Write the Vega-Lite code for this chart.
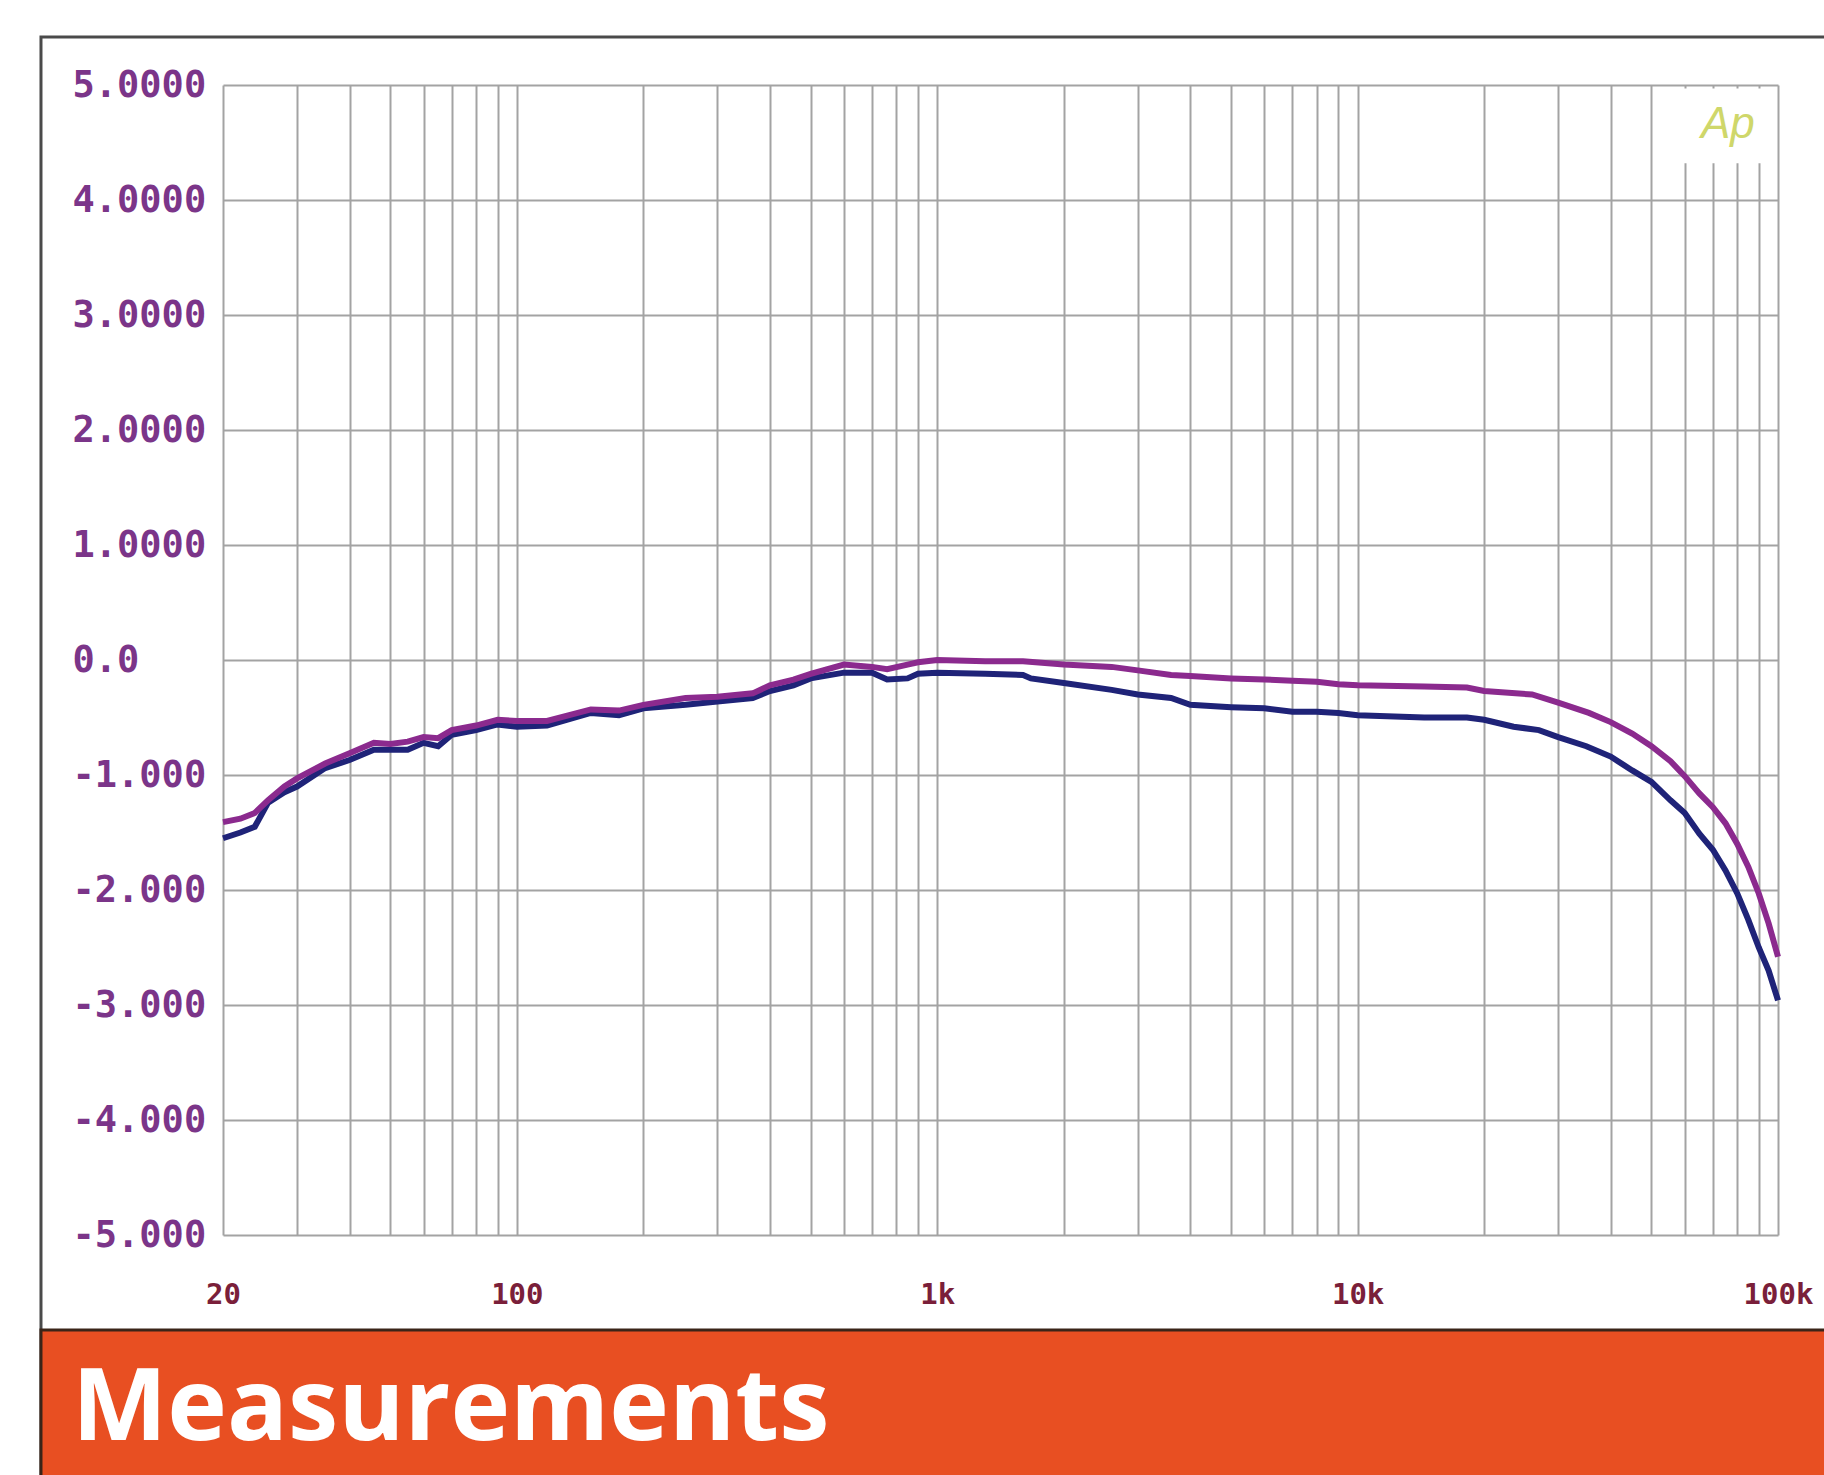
{
  "$schema": "https://vega.github.io/schema/vega-lite/v6.json",
  "width": 1555,
  "height": 1150,
  "autosize": {"type": "none"},
  "padding": {"left": 223, "top": 85, "right": 46, "bottom": 240},
  "background": "white",
  "config": {"view": {"stroke": null}},
  "datasets": {
    "purple": [
      {"f": 20, "v": -1.41}, {"f": 22, "v": -1.38}, {"f": 23.8, "v": -1.33}, {"f": 25.6, "v": -1.22},
      {"f": 28, "v": -1.1}, {"f": 30, "v": -1.03}, {"f": 35, "v": -0.9}, {"f": 40, "v": -0.81},
      {"f": 45.7, "v": -0.72}, {"f": 50, "v": -0.73}, {"f": 55, "v": -0.71}, {"f": 60, "v": -0.67},
      {"f": 65, "v": -0.68}, {"f": 70, "v": -0.61}, {"f": 80, "v": -0.57}, {"f": 90, "v": -0.52},
      {"f": 100, "v": -0.53}, {"f": 118, "v": -0.53}, {"f": 150, "v": -0.43}, {"f": 175, "v": -0.44},
      {"f": 200, "v": -0.39}, {"f": 252, "v": -0.33}, {"f": 300, "v": -0.32}, {"f": 364, "v": -0.29},
      {"f": 400, "v": -0.22}, {"f": 455, "v": -0.17}, {"f": 500, "v": -0.12}, {"f": 600, "v": -0.04},
      {"f": 700, "v": -0.06}, {"f": 760, "v": -0.08}, {"f": 850, "v": -0.04}, {"f": 900, "v": -0.02},
      {"f": 1000, "v": 0.0}, {"f": 1300, "v": -0.01}, {"f": 1600, "v": -0.01}, {"f": 2000, "v": -0.04},
      {"f": 2600, "v": -0.06}, {"f": 3000, "v": -0.09}, {"f": 3600, "v": -0.13}, {"f": 4000, "v": -0.14},
      {"f": 5000, "v": -0.16}, {"f": 6000, "v": -0.17}, {"f": 7000, "v": -0.18}, {"f": 8000, "v": -0.19},
      {"f": 9000, "v": -0.21}, {"f": 10000, "v": -0.22}, {"f": 14400, "v": -0.23}, {"f": 18200, "v": -0.24},
      {"f": 20000, "v": -0.27}, {"f": 26000, "v": -0.3}, {"f": 30000, "v": -0.37}, {"f": 35500, "v": -0.46},
      {"f": 40000, "v": -0.54}, {"f": 45000, "v": -0.64}, {"f": 50000, "v": -0.75}, {"f": 55500, "v": -0.88},
      {"f": 60000, "v": -1.01}, {"f": 65000, "v": -1.16}, {"f": 70000, "v": -1.28}, {"f": 75000, "v": -1.42},
      {"f": 80000, "v": -1.6}, {"f": 85000, "v": -1.8}, {"f": 90000, "v": -2.03}, {"f": 95000, "v": -2.29},
      {"f": 100000, "v": -2.58}
    ],
    "blue": [
      {"f": 20, "v": -1.55}, {"f": 22, "v": -1.5}, {"f": 23.8, "v": -1.45}, {"f": 25.6, "v": -1.24},
      {"f": 28, "v": -1.15}, {"f": 30, "v": -1.1}, {"f": 35, "v": -0.94}, {"f": 40, "v": -0.87},
      {"f": 45.7, "v": -0.78}, {"f": 50, "v": -0.78}, {"f": 55, "v": -0.78}, {"f": 60, "v": -0.72},
      {"f": 65, "v": -0.75}, {"f": 70, "v": -0.65}, {"f": 80, "v": -0.61}, {"f": 90, "v": -0.56},
      {"f": 100, "v": -0.58}, {"f": 118, "v": -0.57}, {"f": 150, "v": -0.46}, {"f": 175, "v": -0.48},
      {"f": 200, "v": -0.42}, {"f": 252, "v": -0.39}, {"f": 300, "v": -0.36}, {"f": 364, "v": -0.33},
      {"f": 400, "v": -0.27}, {"f": 455, "v": -0.22}, {"f": 500, "v": -0.16}, {"f": 600, "v": -0.11},
      {"f": 700, "v": -0.11}, {"f": 760, "v": -0.17}, {"f": 850, "v": -0.16}, {"f": 900, "v": -0.12},
      {"f": 1000, "v": -0.11}, {"f": 1300, "v": -0.12}, {"f": 1600, "v": -0.13}, {"f": 1670, "v": -0.16},
      {"f": 2000, "v": -0.2}, {"f": 2600, "v": -0.26}, {"f": 3000, "v": -0.3}, {"f": 3600, "v": -0.33},
      {"f": 4000, "v": -0.39}, {"f": 5000, "v": -0.41}, {"f": 6000, "v": -0.42}, {"f": 7000, "v": -0.45},
      {"f": 8000, "v": -0.45}, {"f": 9000, "v": -0.46}, {"f": 10000, "v": -0.48}, {"f": 14400, "v": -0.5},
      {"f": 18200, "v": -0.5}, {"f": 20000, "v": -0.52}, {"f": 23500, "v": -0.58}, {"f": 27000, "v": -0.61},
      {"f": 30000, "v": -0.67}, {"f": 35000, "v": -0.75}, {"f": 40000, "v": -0.84}, {"f": 45000, "v": -0.96},
      {"f": 50000, "v": -1.06}, {"f": 55500, "v": -1.22}, {"f": 60000, "v": -1.33}, {"f": 65000, "v": -1.51},
      {"f": 70000, "v": -1.65}, {"f": 75000, "v": -1.83}, {"f": 80000, "v": -2.03}, {"f": 85000, "v": -2.26},
      {"f": 90000, "v": -2.5}, {"f": 95000, "v": -2.7}, {"f": 100000, "v": -2.96}
    ]
  },
  "layer": [
    {
      "data": {"name": "blue"},
      "mark": {"type": "line", "stroke": "#1f2378", "strokeWidth": 6, "clip": false},
      "encoding": {
        "x": {
          "field": "f", "type": "quantitative",
          "scale": {"type": "log", "domain": [20, 100000], "nice": false},
          "axis": {
            "title": null,
            "values": [20, 30, 40, 50, 60, 70, 80, 90, 100, 200, 300, 400, 500, 600, 700, 800, 900, 1000, 2000, 3000, 4000, 5000, 6000, 7000, 8000, 9000, 10000, 20000, 30000, 40000, 50000, 60000, 70000, 80000, 90000, 100000],
            "labelExpr": "datum.value == 20 ? '20' : datum.value == 100 ? '100' : datum.value == 1000 ? '1k' : datum.value == 10000 ? '10k' : datum.value == 100000 ? '100k' : ''",
            "grid": true, "gridColor": "#a3a3a3", "gridWidth": 2, "gridOpacity": 1,
            "domain": false, "ticks": false, "tickSize": 0,
            "labelPadding": 59, "labelBaseline": "middle", "labelAlign": "center",
            "labelFlush": false, "labelOverlap": false, "labelBound": false,
            "labelFont": "DejaVu Sans Mono", "labelFontWeight": "bold", "labelFontSize": 29, "labelColor": "#7a1f3a"
          }
        },
        "y": {
          "field": "v", "type": "quantitative",
          "scale": {"domain": [-5, 5], "nice": false, "zero": false},
          "axis": {
            "title": null,
            "values": [-5, -4, -3, -2, -1, 0, 1, 2, 3, 4, 5],
            "labelExpr": "datum.value == 0 ? '0.0' : datum.value > 0 ? format(datum.value, '.4f') : '-' + format(-datum.value, '.3f')",
            "grid": true, "gridColor": "#a3a3a3", "gridWidth": 2, "gridOpacity": 1,
            "domain": false, "ticks": false, "tickSize": 0,
            "labelAlign": "left", "labelPadding": 151, "labelBaseline": "middle",
            "labelFlush": false, "labelOverlap": false, "labelBound": false,
            "labelFont": "DejaVu Sans Mono", "labelFontWeight": "bold", "labelFontSize": 37, "labelColor": "#7b3589"
          }
        }
      }
    },
    {
      "data": {"name": "purple"},
      "mark": {"type": "line", "stroke": "#8b2a8e", "strokeWidth": 6, "clip": false},
      "encoding": {
        "x": {"field": "f", "type": "quantitative", "scale": {"type": "log", "domain": [20, 100000], "nice": false}},
        "y": {"field": "v", "type": "quantitative", "scale": {"domain": [-5, 5], "nice": false, "zero": false}}
      }
    },
    {
      "data": {"values": [{}]},
      "mark": {"type": "rect", "fill": "white"},
      "encoding": {
        "x": {"datum": 55500, "type": "quantitative", "scale": {"type": "log", "domain": [20, 100000], "nice": false}},
        "x2": {"datum": 96500},
        "y": {"datum": 4.97, "type": "quantitative", "scale": {"domain": [-5, 5], "nice": false, "zero": false}},
        "y2": {"datum": 4.32}
      }
    },
    {
      "data": {"values": [{}]},
      "mark": {"type": "text", "text": "Ap", "font": "Liberation Sans", "fontStyle": "italic", "fontSize": 44, "fill": "#cfd76a", "align": "center", "baseline": "middle"},
      "encoding": {
        "x": {"datum": 76000, "type": "quantitative", "scale": {"type": "log", "domain": [20, 100000], "nice": false}},
        "y": {"datum": 4.65, "type": "quantitative", "scale": {"domain": [-5, 5], "nice": false, "zero": false}}
      }
    },
    {
      "data": {"values": [{}]},
      "mark": {"type": "rect", "fill": null, "stroke": "#4a4a4a", "strokeWidth": 3, "clip": false},
      "encoding": {
        "x": {"datum": 7.38, "type": "quantitative", "scale": {"type": "log", "domain": [20, 100000], "nice": false}},
        "x2": {"datum": 200000},
        "y": {"datum": 5.417, "type": "quantitative", "scale": {"domain": [-5, 5], "nice": false, "zero": false}},
        "y2": {"datum": -7.4}
      }
    },
    {
      "data": {"values": [{}]},
      "mark": {"type": "rect", "fill": "#e84f22", "stroke": "#3a2418", "strokeWidth": 3, "clip": false},
      "encoding": {
        "x": {"datum": 7.38, "type": "quantitative", "scale": {"type": "log", "domain": [20, 100000], "nice": false}},
        "x2": {"datum": 200000},
        "y": {"datum": -5.826, "type": "quantitative", "scale": {"domain": [-5, 5], "nice": false, "zero": false}},
        "y2": {"datum": -7.4}
      }
    },
    {
      "data": {"values": [{}]},
      "mark": {"type": "text", "text": "Measurements", "font": "Open Sans", "fontWeight": "bold", "fontSize": 101, "fill": "white", "align": "left", "baseline": "alphabetic", "clip": false},
      "encoding": {
        "x": {"datum": 8.75, "type": "quantitative", "scale": {"type": "log", "domain": [20, 100000], "nice": false}},
        "y": {"datum": -6.783, "type": "quantitative", "scale": {"domain": [-5, 5], "nice": false, "zero": false}}
      }
    }
  ]
}
